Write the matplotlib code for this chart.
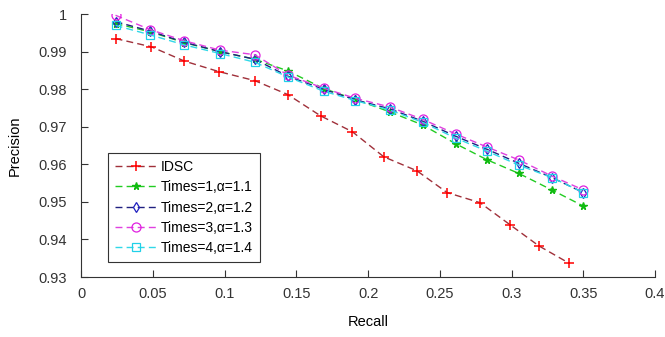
import numpy as np
import matplotlib
matplotlib.use('Agg')
import matplotlib.pyplot as plt
from matplotlib.ticker import FuncFormatter

plt.rcParams['font.family'] = ['Liberation Sans Narrow', 'Liberation Sans', 'DejaVu Sans']

# Recall values (x)
recall_idsc = [0.024, 0.049, 0.072, 0.096, 0.121, 0.144, 0.167, 0.189,
               0.211, 0.234, 0.255, 0.278, 0.299, 0.319, 0.340]
recall_times = [0.024, 0.048, 0.072, 0.097, 0.121, 0.144, 0.169, 0.191,
                0.215, 0.238, 0.261, 0.283, 0.305, 0.328, 0.350]

# Precision values (y)
prec_idsc = [0.9935, 0.9913, 0.9875, 0.9847, 0.9823, 0.9786, 0.9729, 0.9687,
             0.9620, 0.9583, 0.9525, 0.9498, 0.9439, 0.9383, 0.9337]
prec_t1 = [0.9975, 0.9953, 0.9924, 0.9900, 0.9880, 0.9849, 0.9802, 0.9773,
           0.9740, 0.9705, 0.9655, 0.9612, 0.9576, 0.9532, 0.9489]
prec_t2 = [0.9980, 0.9955, 0.9925, 0.9900, 0.9880, 0.9835, 0.9800, 0.9772,
           0.9748, 0.9715, 0.9675, 0.9640, 0.9603, 0.9565, 0.9525]
prec_t3 = [0.9997, 0.9959, 0.9929, 0.9904, 0.9892, 0.9838, 0.9803, 0.9776,
           0.9753, 0.9720, 0.9681, 0.9646, 0.9612, 0.9569, 0.9532]
prec_t4 = [0.9970, 0.9945, 0.9918, 0.9895, 0.9872, 0.9833, 0.9795, 0.9770,
           0.9745, 0.9712, 0.9670, 0.9635, 0.9598, 0.9565, 0.9525]

labels = ['IDSC', 'Times=1,\u03b1=1.1', 'Times=2,\u03b1=1.2',
          'Times=3,\u03b1=1.3', 'Times=4,\u03b1=1.4']

fig = plt.figure(figsize=(6.65, 3.37), dpi=100)
ax = fig.add_axes([0.122, 0.178, 0.863, 0.78])

dash = (0, (5, 3))
ax.plot(recall_idsc, prec_idsc, linestyle=dash, color='#a0303a', lw=1.0,
        marker='+', ms=7, mec='red', mew=1.1, label=labels[0])
ax.plot(recall_times, prec_t1, linestyle=dash, color='#22cc22', lw=1.0,
        marker='*', ms=5.5, mec='#11bb11', mfc='#11bb11', label=labels[1])
ax.plot(recall_times, prec_t2, linestyle=dash, color='#202080', lw=1.0,
        marker='d', ms=5.5, mec='#2020c0', mfc='none', mew=0.9, label=labels[2])
ax.plot(recall_times, prec_t3, linestyle=dash, color='#e040e0', lw=1.0,
        marker='o', ms=6.5, mec='#e020e0', mfc='none', mew=0.9, label=labels[3])
ax.plot(recall_times, prec_t4, linestyle=dash, color='#30d8e8', lw=1.0,
        marker='s', ms=5.5, mec='#20d0e8', mfc='none', mew=0.9, label=labels[4])

ax.set_xlim(0, 0.4)
ax.set_ylim(0.93, 1.0)
ax.set_xticks(np.arange(0, 0.401, 0.05))
ax.set_yticks(np.arange(0.93, 1.0001, 0.01))
fmt = FuncFormatter(lambda v, p: '%g' % round(v, 3))
ax.xaxis.set_major_formatter(fmt)
ax.yaxis.set_major_formatter(fmt)
ax.tick_params(direction='in', length=5, width=0.8, labelsize=10.5, pad=7, colors='#333333')
ax.tick_params(axis='y', pad=10)
for s in ['top', 'right']:
    ax.spines[s].set_visible(False)
for s in ['left', 'bottom']:
    ax.spines[s].set_color('#333333')

ax.set_xlabel('Recall', fontsize=10.5, labelpad=10)
ax.set_ylabel('Precision', fontsize=10.5, labelpad=12)

leg = ax.legend(loc='lower left', bbox_to_anchor=(0.047, 0.057), fontsize=10,
                fancybox=False, edgecolor='#333333', framealpha=1,
                borderaxespad=0, handlelength=3.0, handletextpad=0.3,
                borderpad=0.5, labelspacing=0.45)
leg.get_frame().set_linewidth(0.8)

fig.savefig('out.png', dpi=100)
